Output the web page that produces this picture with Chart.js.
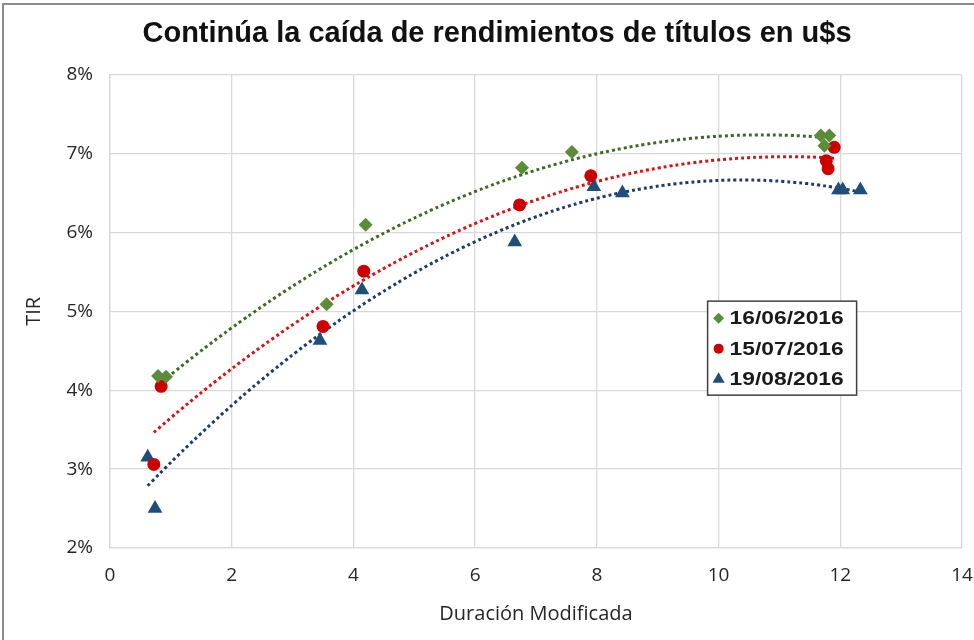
<!DOCTYPE html>
<html>
<head>
<meta charset="utf-8">
<script src="https://cdn.jsdelivr.net/npm/chart.js@4"></script>
<style>
    html, body { margin: 0; padding: 0; background: #fff; }
    #wrap { position: absolute; left: 0; top: 0; width: 974px; height: 640px; }
    #frame { position: absolute; left: 2px; top: 3px; width: 980px; height: 650px;
             border-top: 2px solid #8c8c8c; border-left: 2px solid #8c8c8c; pointer-events: none; }
</style>
</head>
<body>
<div id="wrap">
    <canvas id="chart" width="974" height="640"></canvas>
    <div id="frame"></div>
</div>
<script>
// ── Datos ────────────────────────────────────────────────────
const fechas = ['16/06/2016', '15/07/2016', '19/08/2016'];

const durVerde = [0.79, 0.92, 3.56, 4.20, 6.77, 7.59, 11.68, 11.82, 11.74];
const tirVerde = [4.18, 4.17, 5.09, 6.10, 6.82, 7.02, 7.23, 7.23, 7.10];

const durRojo = [0.72, 0.84, 3.50, 4.17, 6.73, 7.90, 11.77, 11.80, 11.90];
const tirRojo = [3.06, 4.05, 4.81, 5.51, 6.35, 6.72, 6.91, 6.81, 7.08];

const durAzul = [0.62, 0.74, 3.45, 4.14, 6.65, 7.95, 8.42, 11.97, 12.04, 12.33];
const tirAzul = [3.15, 2.50, 4.63, 5.27, 5.88, 6.58, 6.50, 6.54, 6.54, 6.54];

const ticksX = [0, 2, 4, 6, 8, 10, 12, 14];
const ticksY = [2, 3, 4, 5, 6, 7, 8];

// ── Helpers ──────────────────────────────────────────────────
function toPoints(xs, ys) {
    return xs.map((x, i) => ({ x, y: ys[i] }));
}

// Excel-style polynomial (order 2) trendline, least squares
function polyTrend(xs, ys) {
    let n = xs.length, sx = 0, sx2 = 0, sx3 = 0, sx4 = 0, sy = 0, sxy = 0, sx2y = 0;
    xs.forEach((x, i) => {
        const y = ys[i];
        sx += x; sx2 += x * x; sx3 += x ** 3; sx4 += x ** 4;
        sy += y; sxy += x * y; sx2y += x * x * y;
    });
    const m = [[n, sx, sx2, sy], [sx, sx2, sx3, sxy], [sx2, sx3, sx4, sx2y]];
    for (let c = 0; c < 3; c++) {
        for (let r = c + 1; r < 3; r++) {
            const f = m[r][c] / m[c][c];
            for (let k = c; k < 4; k++) m[r][k] -= f * m[c][k];
        }
    }
    const b = [0, 0, 0];
    for (let r = 2; r >= 0; r--) {
        let s = m[r][3];
        for (let k = r + 1; k < 3; k++) s -= m[r][k] * b[k];
        b[r] = s / m[r][r];
    }
    const lo = Math.min(...xs), hi = Math.max(...xs), pts = [];
    for (let i = 0; i <= 60; i++) {
        const x = lo + (hi - lo) * i / 60;
        pts.push({ x, y: b[0] + b[1] * x + b[2] * x * x });
    }
    return pts;
}

const series = [
    { label: fechas[0], xs: durVerde, ys: tirVerde, color: '#5b8c3a', trend: '#3f6a26', style: 'rectRot', r: 7 },
    { label: fechas[1], xs: durRojo,  ys: tirRojo,  color: '#cc0000', trend: '#e01010', style: 'circle',  r: 6.5 },
    { label: fechas[2], xs: durAzul,  ys: tirAzul,  color: '#1f4e79', trend: '#1f3a6e', style: 'triangle', r: 8.5 }
];

const datasets = [];
series.forEach(s => {
    datasets.push({
        type: 'line', label: 'trend', data: polyTrend(s.xs, s.ys),
        borderColor: s.trend, borderWidth: 3, borderDash: [3, 3],
        pointRadius: 0, fill: false, tension: 0.3, order: 2
    });
});
series.forEach(s => {
    datasets.push({
        type: 'scatter', label: s.label, data: toPoints(s.xs, s.ys),
        backgroundColor: s.color, borderColor: s.color, borderWidth: 0,
        pointStyle: s.style, pointRadius: s.r, order: 1
    });
});

// ── Leyenda dentro del área ──────────────────────────────────
const boxLegend = {
    id: 'boxLegend',
    afterDraw(chart) {
        const ctx = chart.ctx;
        const xs = chart.scales.x, ys = chart.scales.y;
        const left = xs.getPixelForValue(9.82), top = ys.getPixelForValue(5.13);
        const w = 149, h = 94;
        ctx.save();
        ctx.fillStyle = '#fff';
        ctx.fillRect(left, top, w, h);
        ctx.strokeStyle = '#404040';
        ctx.lineWidth = 1.5;
        ctx.strokeRect(left, top, w, h);
        ctx.font = 'bold 19px "Liberation Sans", Arial, sans-serif';
        ctx.textBaseline = 'middle';
        series.forEach((s, i) => {
            const cy = top + 17 + i * 30.5;
            ctx.fillStyle = s.color;
            ctx.strokeStyle = s.color;
            Chart.helpers.drawPoint(ctx, { pointStyle: s.style, radius: s.r - 1.5, borderWidth: 0 }, left + 11, cy);
            ctx.fillStyle = '#1a1a1a';
            ctx.save();
            ctx.translate(left + 22, cy + 1);
            ctx.scale(1.2, 1);
            ctx.fillText(s.label, 0, 0);
            ctx.restore();
        });
        ctx.restore();
    }
};

const tickFont = { family: '"Open Sans", "Liberation Sans", sans-serif', size: 19 };
const titleFont = { family: '"Open Sans", "Liberation Sans", sans-serif', size: 20 };

new Chart(document.getElementById('chart'), {
    data: { datasets },
    plugins: [boxLegend],
    options: {
        responsive: false,
        animation: false,
        layout: { padding: { left: 32, right: 12, top: 0, bottom: 0 } },
        plugins: {
            legend: { display: false },
            tooltip: { enabled: false },
            title: {
                display: true,
                text: 'Continúa la caída de rendimientos de títulos en u$s',
                color: '#111',
                font: { family: '"Liberation Sans", Arial, sans-serif', size: 29, weight: 'bold' },
                padding: { top: 17, bottom: 23 }
            }
        },
        scales: {
            x: {
                type: 'linear', min: 0, max: 14,
                afterBuildTicks: a => { a.ticks = ticksX.map(v => ({ value: v })); },
                afterFit: a => { a.height = 92; a.paddingRight = 0; a.paddingLeft = 0; },
                grid: { color: '#d9d9d9', lineWidth: 1.3, drawTicks: false },
                border: { color: '#d9d9d9', width: 1.3 },
                ticks: { color: '#262626', font: tickFont, padding: 16 },
                title: { display: true, text: 'Duración Modificada', color: '#262626', font: titleFont, padding: { top: 2, bottom: 14 } }
            },
            y: {
                type: 'linear', min: 2, max: 8,
                afterBuildTicks: a => { a.ticks = ticksY.map(v => ({ value: v })); },
                afterFit: a => { a.width = 78; },
                grid: { color: '#d9d9d9', lineWidth: 1.3, drawTicks: false },
                border: { color: '#d9d9d9', width: 1.3 },
                ticks: { color: '#262626', font: tickFont, padding: 17, callback: v => v + '%' },
                title: { display: true, text: 'TIR', color: '#262626', font: titleFont, padding: { top: -10, bottom: 0 } }
            }
        }
    }
});
</script>
</body>
</html>
